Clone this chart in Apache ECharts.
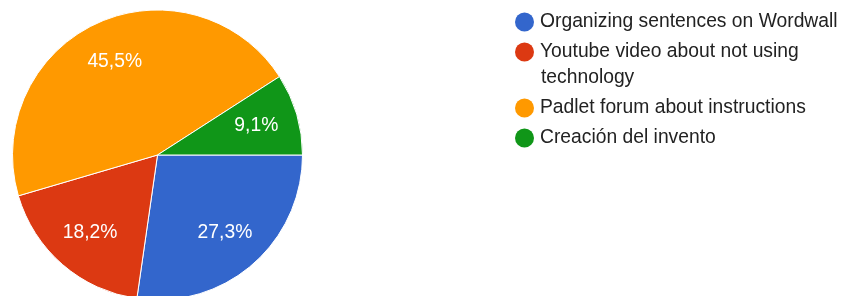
<!DOCTYPE html>
<html>
<head>
<meta charset="utf-8">
<script src="https://cdn.jsdelivr.net/npm/echarts@6/dist/echarts.min.js"></script>
<style>
html,body{margin:0;padding:0;background:#fff;}
#chart{width:845px;height:296px;}
</style>
</head>
<body>
<div id="chart"></div>
<script>
const categories = ['Organizing sentences on Wordwall', 'Youtube video about not using technology', 'Padlet forum about instructions', 'Creación del invento'];
const legendLines = ['Organizing sentences on Wordwall', 'Youtube video about not using', 'Padlet forum about instructions', 'Creación del invento'];
const wrapLine = 'technology';
const values = [3, 2, 5, 1];
const colors = ['#3366cc', '#dc3912', '#ff9900', '#109618'];

const FONT = '"Liberation Sans", Arial, sans-serif';
const FS = 19.3;
const data = categories.map((c, i) => ({ name: c, value: values[i], itemStyle: { color: colors[i] } }));
const labelData = categories.map((c, i) => ({ name: c, value: values[i] }));

const legendBase = {
  orient: 'vertical',
  left: 515,
  padding: 0,
  icon: 'circle',
  itemWidth: 21,
  itemHeight: 19,
  itemGap: 11,
  selectedMode: false,
  itemStyle: { borderWidth: 0 },
  textStyle: { fontFamily: FONT, fontSize: FS, color: '#222222', lineHeight: 19 },
  formatter: function (name) { return legendLines[categories.indexOf(name)]; }
};

const chart = echarts.init(document.getElementById('chart'), null, { renderer: 'canvas' });
chart.setOption({
  animation: false,
  legend: [
    Object.assign({}, legendBase, { top: 12.5, data: [categories[0], categories[1]] }),
    Object.assign({}, legendBase, { top: 98.5, data: [categories[2], categories[3]] })
  ],
  graphic: [{
    type: 'text',
    x: 541,
    y: 78,
    style: { text: wrapLine, font: FS + 'px ' + FONT, fill: '#222222', verticalAlign: 'middle' }
  }],
  series: [
    {
      type: 'pie',
      center: [157.5, 155],
      radius: [0, 145],
      startAngle: 0,
      clockwise: true,
      label: { show: false },
      labelLine: { show: false },
      itemStyle: { borderColor: '#ffffff', borderWidth: 1 },
      emphasis: { disabled: true },
      data: data
    },
    {
      type: 'pie',
      center: [157.5, 155],
      radius: [55, 145],
      startAngle: 0,
      clockwise: true,
      silent: true,
      itemStyle: { color: 'rgba(0,0,0,0)' },
      emphasis: { disabled: true },
      label: {
        show: true,
        position: 'inside',
        color: '#ffffff',
        fontFamily: FONT,
        fontSize: FS,
        formatter: function (p) { return p.percent.toFixed(1).replace('.', ',') + '%'; }
      },
      labelLine: { show: false },
      data: labelData
    }
  ]
});
</script>
</body>
</html>
